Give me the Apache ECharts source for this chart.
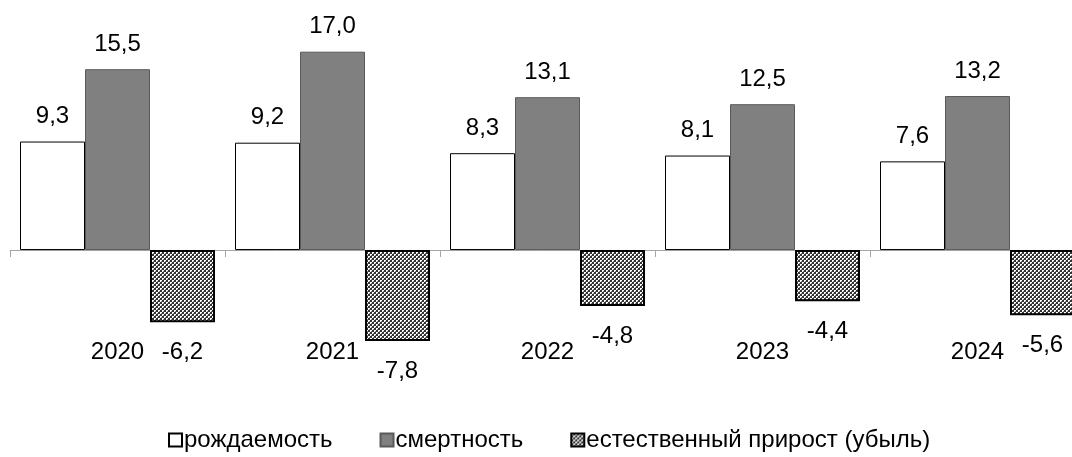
<!DOCTYPE html>
<html>
<head>
<meta charset="utf-8">
<script src="https://cdn.jsdelivr.net/npm/echarts@6/dist/echarts.min.js"></script>
<style>
  html, body { margin: 0; padding: 0; background: #fff; }
  #chart { width: 1072px; height: 457px; }
</style>
</head>
<body>
<div id="chart"></div>
<script>
// Естественное движение населения, на 1000 человек
const years = ['2020', '2021', '2022', '2023', '2024'];
const birthRate = [9.3, 9.2, 8.3, 8.1, 7.6];
const deathRate = [15.5, 17.0, 13.1, 12.5, 13.2];
const naturalGrowth = [-6.2, -7.8, -4.8, -4.4, -5.6];

const seriesNames = ['рождаемость', 'смертность', 'естественный прирост (убыль)'];

// Fine checkered fill for the natural growth bars
function makeCheckerPattern() {
  const c = document.createElement('canvas');
  c.width = 4; c.height = 4;
  const ctx = c.getContext('2d');
  ctx.fillStyle = '#ffffff';
  ctx.fillRect(0, 0, 4, 4);
  ctx.fillStyle = '#333333';
  ctx.fillRect(2, 0, 2, 2);
  ctx.fillRect(0, 2, 2, 2);
  ctx.fillStyle = '#808080';
  ctx.fillRect(1, 1, 1, 1);
  ctx.fillRect(3, 3, 1, 1);
  return c;
}

const FONT = '"Liberation Sans", Arial, sans-serif';
const fmt = v => String(v.toFixed(1)).replace('.', ',');

const labelBase = {
  show: true,
  fontFamily: FONT,
  fontSize: 24,
  color: '#000',
  lineHeight: 24,
  formatter: p => fmt(p.value)
};

const chart = echarts.init(document.getElementById('chart'), null, { renderer: 'canvas' });

chart.setOption({
  animation: false,
  backgroundColor: '#ffffff',
  grid: {
    left: 10, top: 16.7, width: 1075, height: 350,
    containLabel: false,
    outerBoundsMode: 'none'
  },
  legend: {
    bottom: 0,
    left: 163,
    icon: 'rect',
    itemWidth: 13,
    itemHeight: 13,
    itemGap: 47,
    textStyle: { fontFamily: FONT, fontSize: 24, color: '#000', padding: [0, 0, 0, -3] },
    data: seriesNames
  },
  xAxis: {
    type: 'category',
    data: years,
    axisLine: { show: true, lineStyle: { color: '#a6a6a6', width: 1 } },
    axisTick: { show: true, length: 7, lineStyle: { color: '#a6a6a6' } },
    axisLabel: {
      fontFamily: FONT, fontSize: 24, color: '#000',
      lineHeight: 24, margin: -26
    }
  },
  yAxis: {
    type: 'value',
    min: -10,
    max: 20,
    show: false,
    splitLine: { show: false }
  },
  series: [
    {
      name: seriesNames[0],
      type: 'bar',
      data: birthRate,
      barWidth: 65,
      barGap: '0%',
      itemStyle: { color: '#ffffff', borderColor: '#000000', borderWidth: 1 },
      label: Object.assign({}, labelBase, { position: 'top', distance: 13 })
    },
    {
      name: seriesNames[1],
      type: 'bar',
      data: deathRate,
      barWidth: 65,
      barGap: '0%',
      itemStyle: { color: '#808080', borderColor: '#595959', borderWidth: 1 },
      label: Object.assign({}, labelBase, { position: 'top', distance: 13 })
    },
    {
      name: seriesNames[2],
      type: 'bar',
      data: naturalGrowth,
      barWidth: 65,
      barGap: '0%',
      itemStyle: {
        color: { image: makeCheckerPattern(), repeat: 'repeat' },
        borderColor: '#000000',
        borderWidth: 2
      },
      label: Object.assign({}, labelBase, { position: 'bottom', distance: 18 })
    }
  ]
});
</script>
</body>
</html>
